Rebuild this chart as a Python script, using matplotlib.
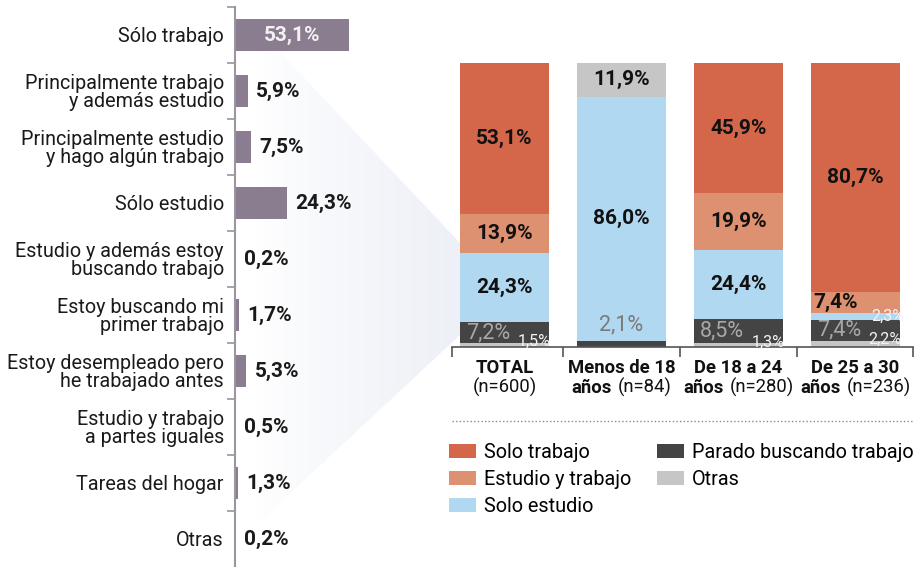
import matplotlib.pyplot as plt
import numpy as np
from matplotlib.patches import Polygon, Patch
from matplotlib.offsetbox import TextArea, HPacker, AnnotationBbox

plt.rcParams['font.family'] = ['Roboto', 'DejaVu Sans']

# left panel data
situaciones = ['Sólo trabajo', 'Principalmente trabajo\ny además estudio',
               'Principalmente estudio\ny hago algún trabajo', 'Sólo estudio',
               'Estudio y además estoy\nbuscando trabajo', 'Estoy buscando mi\nprimer trabajo',
               'Estoy desempleado pero\nhe trabajado antes', 'Estudio y trabajo\na partes iguales',
               'Tareas del hogar', 'Otras']
porcentajes = [53.1, 5.9, 7.5, 24.3, 0.2, 1.7, 5.3, 0.5, 1.3, 0.2]

# right panel data
grupos = ['TOTAL', 'Menos de 18', 'De 18 a 24', 'De 25 a 30']
grupos_2 = ['', 'años', 'años', 'años']
grupos_n = ['(n=600)', '(n=84)', '(n=280)', '(n=236)']
solo_trabajo = [53.1, 0, 45.9, 80.7]
estudio_trabajo = [13.9, 0, 19.9, 7.4]
solo_estudio = [24.3, 86.0, 24.4, 2.3]
parado = [7.2, 2.1, 8.5, 7.4]
otras = [1.5, 11.9, 1.3, 2.2]
otras_arriba = [False, True, False, False]

series = {
    'Solo trabajo': (solo_trabajo, '#d4664a'),
    'Estudio y trabajo': (estudio_trabajo, '#de9170'),
    'Solo estudio': (solo_estudio, '#b0d8f0'),
    'Parado buscando trabajo': (parado, '#444444'),
    'Otras': (otras, '#c6c6c6'),
}

def fmt(v):
    return f'{v:.1f}%'.replace('.', ',')

W, H = 920, 567
fig = plt.figure(figsize=(W / 100, H / 100), dpi=100)

# background funnel shape + dotted separator
bg = fig.add_axes([0, 0, 1, 1], zorder=0)
bg.set_xlim(0, W)
bg.set_ylim(H, 0)
bg.axis('off')
poly = Polygon([(240, 10), (460, 243), (460, 335), (240, 540)], closed=True,
               facecolor='none', edgecolor='none')
bg.add_patch(poly)
grad = np.linspace(0, 1, 200)[None, :] ** 0.8
img = bg.imshow(np.dstack([np.full((1, 200), 0.93), np.full((1, 200), 0.945),
                           np.full((1, 200), 0.97), grad]),
                extent=(255, 460, 540, 10), aspect='auto', interpolation='bilinear')
img.set_clip_path(poly)
bg.plot([452, 913], [421, 421], ls=(0, (1, 1.6)), color='#8a8a8a', lw=1)

# left bar chart
axl = fig.add_axes([235 / W, 0, 215 / W, 560 / H], zorder=1)
axl.patch.set_alpha(0)
y = np.arange(len(situaciones))
axl.barh(y, porcentajes, height=0.57, color='#8a7d8f')
axl.set_xlim(0, 100)
axl.set_ylim(len(situaciones) - 0.5, -0.5)
for s in ['top', 'right', 'bottom']:
    axl.spines[s].set_visible(False)
axl.spines['left'].set_color('#9b94a1')
axl.spines['left'].set_linewidth(1.5)
axl.set_xticks([])
axl.set_yticks(y)
axl.set_yticklabels(situaciones, fontsize=14.2, color='#1a1a1a', linespacing=0.93)
axl.set_yticks(np.arange(len(situaciones)) - 0.5, minor=True)
axl.tick_params(axis='y', which='major', length=0, pad=8)
axl.tick_params(axis='y', which='minor', length=5.5, width=1.2, color='#9b94a1', direction='out')
for i, v in enumerate(porcentajes):
    if v > 40:
        axl.text(v / 2, i, fmt(v), ha='center', va='center', fontsize=15,
                 fontweight='bold', color='#f2f2f2')
    else:
        axl.annotate(fmt(v), (v, i), xytext=(6, 0), textcoords='offset points',
                     ha='left', va='center', fontsize=15, fontweight='bold', color='#1a1a1a')

# right stacked bars
axr = fig.add_axes([446 / W, 220 / H, 468 / W, 284 / H], zorder=1)
axr.patch.set_alpha(0)
x = np.arange(len(grupos))
bw = 0.76
orden = ['Otras', 'Parado buscando trabajo', 'Solo estudio', 'Estudio y trabajo', 'Solo trabajo']
for i in x:
    keys = orden[1:] + ['Otras'] if otras_arriba[i] else orden
    base = 0
    for k in keys:
        vals, col = series[k]
        v = vals[i]
        if v <= 0:
            continue
        axr.bar(i, v, bottom=base, width=bw, color=col)
        mid = base + v / 2
        if k == 'Parado buscando trabajo':
            if v >= 5:
                axr.text(i - 0.14, mid, fmt(v), ha='center', va='center', fontsize=15.5, color='#a8a8a8')
            else:
                axr.annotate(fmt(v), (i, base + v), xytext=(0, 4), textcoords='offset points',
                             ha='center', va='bottom', fontsize=15.5, color='#7a7a7a')
        elif k == 'Otras' and v < 5:
            axr.annotate(fmt(v), (i + 0.25, base + v), xytext=(0, 1), textcoords='offset points',
                         ha='center', va='center', fontsize=11.5, color='#f4f4f4')
        elif v >= 10:
            axr.text(i, mid, fmt(v), ha='center', va='center', fontsize=15,
                     fontweight='bold', color='#111111')
        elif v >= 5:
            axr.text(i - 0.17, mid, fmt(v), ha='center', va='center', fontsize=15,
                     fontweight='bold', color='#111111')
        else:
            axr.text(i + 0.28, mid, fmt(v), ha='center', va='center', fontsize=11.5, color='#f4f4f4')
        base += v

axr.set_xlim(-0.5, 3.5)
axr.set_ylim(0, 100)
for s in ['top', 'right', 'left']:
    axr.spines[s].set_visible(False)
axr.spines['bottom'].set_bounds(-0.449, 3.49)
axr.spines['bottom'].set_color('#555555')
axr.spines['bottom'].set_linewidth(1.2)
axr.set_yticks([])
axr.set_xticks([-0.449, 0.5, 1.5, 2.5, 3.49])
axr.set_xticklabels([])
axr.tick_params(axis='x', length=7.5, width=1.2, color='#555555', direction='out')

for i, g in enumerate(grupos):
    axr.annotate(g, (i, 0), xycoords=('data', 'axes fraction'), xytext=(0, -15),
                 textcoords='offset points', ha='center', va='center', fontsize=13.3,
                 fontweight='bold', color='#111111')
    parts = []
    if grupos_2[i]:
        parts.append(TextArea(grupos_2[i], textprops=dict(fontsize=13.3, fontweight='bold', color='#111111')))
    parts.append(TextArea(grupos_n[i], textprops=dict(fontsize=13.3, color='#111111')))
    box = HPacker(children=parts, align='baseline', pad=0, sep=4)
    ab = AnnotationBbox(box, (i, 0), xycoords=('data', 'axes fraction'), xybox=(0, -29),
                        boxcoords='offset points', frameon=False, box_alignment=(0.5, 0.5))
    axr.add_artist(ab)

handles = [Patch(facecolor=series[k][1], label=k) for k in
           ['Solo trabajo', 'Estudio y trabajo', 'Solo estudio', 'Parado buscando trabajo', 'Otras']]
fig.legend(handles=handles, loc='upper left', bbox_to_anchor=(449 / W, 1 - 443 / H), ncol=2,
           frameon=False, fontsize=14.3, handlelength=1.35, handleheight=0.75, handletextpad=0.4,
           columnspacing=1.3, labelspacing=0.4, borderpad=0, borderaxespad=0)

fig.savefig('out.png', dpi=100)
